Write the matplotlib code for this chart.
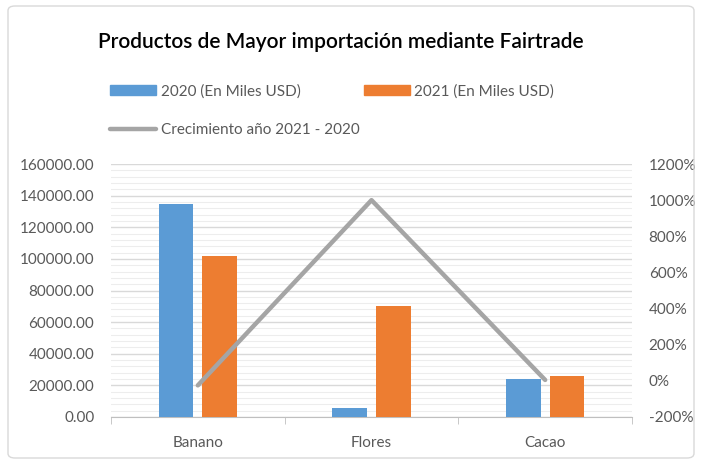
import numpy as np
import matplotlib.pyplot as plt
from matplotlib.patches import FancyBboxPatch, Patch
from matplotlib.lines import Line2D
from matplotlib.ticker import MultipleLocator, FuncFormatter

categorias = ['Banano', 'Flores', 'Cacao']
miles_2020 = [135000, 5500, 24000]
miles_2021 = [102000, 70000, 26000]
crecimiento = [-25, 1000, 5]   # en %

azul = '#5B9BD5'
naranja = '#ED7D31'
gris = '#A5A5A5'
texto = '#595959'

plt.rcParams['font.family'] = ['Lato', 'DejaVu Sans']

fig = plt.figure(figsize=(7.01, 4.62), dpi=100)
fig.patches.append(FancyBboxPatch((8 / 701, 4 / 462), 686 / 701, 452 / 462,
                                  boxstyle='round,pad=0,rounding_size=0.01',
                                  transform=fig.transFigure, fill=False,
                                  edgecolor='#D9D9D9', linewidth=1))

ax = fig.add_axes([111 / 701, 45 / 462, 521 / 701, 253 / 462])
x = np.arange(len(categorias))
w = 0.2
ax.bar(x - 0.125, miles_2020, w, color=azul, zorder=3)
ax.bar(x + 0.125, miles_2021, w, color=naranja, zorder=3)

ax.set_xlim(-0.5, 2.5)
ax.set_ylim(0, 160000)
ax.yaxis.set_major_locator(MultipleLocator(20000))
ax.yaxis.set_minor_locator(MultipleLocator(4000))
ax.yaxis.set_major_formatter(FuncFormatter(lambda v, p: f'{v:.2f}'))
ax.grid(axis='y', which='major', color='#D9D9D9', linewidth=1, zorder=0)
ax.grid(axis='y', which='minor', color='#EDEDED', linewidth=0.8, zorder=0)
ax.set_xticks(x)
ax.set_xticklabels(categorias)
ax.set_xticks([-0.5, 0.5, 1.5, 2.5], minor=True)
ax.tick_params(axis='x', which='major', length=0, pad=14, labelsize=11, labelcolor=texto)
ax.tick_params(axis='x', which='minor', length=5, color='#BFBFBF')
ax.tick_params(axis='y', which='both', length=0, labelsize=11, labelcolor=texto, pad=12)
for s in ['top', 'right', 'left']:
    ax.spines[s].set_visible(False)
ax.spines['bottom'].set_color('#BFBFBF')

ax2 = ax.twinx()
ax2.plot(x, crecimiento, color=gris, linewidth=3.2, solid_capstyle='round', zorder=4)
ax2.set_ylim(-200, 1200)
ax2.yaxis.set_major_locator(MultipleLocator(200))
ax2.yaxis.set_major_formatter(FuncFormatter(lambda v, p: f'{v:.0f}%'))
ax2.tick_params(axis='y', length=0, labelsize=11, labelcolor=texto, pad=12)
for s in ax2.spines.values():
    s.set_visible(False)

fig.text(0.486, 0.91, 'Productos de Mayor importación mediante Fairtrade',
         ha='center', va='center', fontsize=15, color='black', fontweight='semibold')

handles = [Patch(color=azul, label='2020 (En Miles USD)'),
           Line2D([0], [0], color=gris, linewidth=3.2, solid_capstyle='round',
                  label='Crecimiento año 2021 - 2020'),
           Patch(color=naranja, label='2021 (En Miles USD)')]
fig.legend(handles=handles, ncol=2, loc='upper left', bbox_to_anchor=(104 / 701, 1 - 78 / 462),
           frameon=False, fontsize=11, labelcolor=texto, handlelength=3.0, handleheight=0.6,
           handletextpad=0.3, columnspacing=0.3, labelspacing=1.6, borderaxespad=0)

fig.savefig('out.png', dpi=100)
